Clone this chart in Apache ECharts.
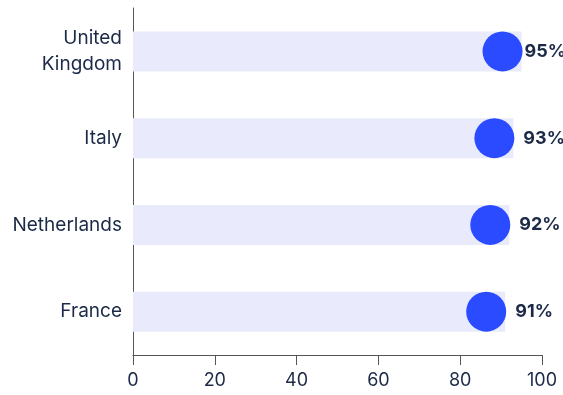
<!DOCTYPE html>
<html><head><meta charset="utf-8">
<script src="https://cdn.jsdelivr.net/npm/echarts@6/dist/echarts.min.js"></script>
<style>html,body{margin:0;padding:0;background:#fff}#c{width:563px;height:395px}</style>
</head><body><div id="c"></div>
<script>
const categories = ['United\nKingdom', 'Italy', 'Netherlands', 'France'];
const values = [95, 93, 92, 91];
const xTicks = [0, 20, 40, 60, 80, 100];

const chart = echarts.init(document.getElementById('c'), null, {renderer: 'canvas'});
const textColor = '#1c2a48';
chart.setOption({
  animation: false,
  grid: {left: 133, right: 21, top: 8, bottom: 40, containLabel: false},
  xAxis: {
    type: 'value', min: 0, max: 100, interval: 20,
    axisLine: {show: true, lineStyle: {color: '#555', width: 1}},
    axisTick: {show: true, length: 10, lineStyle: {color: '#555'}},
    splitLine: {show: false},
    axisLabel: {color: textColor, fontSize: 18, fontFamily: 'Inter', margin: 17,
      formatter: v => xTicks.includes(v) ? String(v) : ''}
  },
  yAxis: {
    type: 'category', data: categories, inverse: true,
    axisLine: {show: true, lineStyle: {color: '#555', width: 1}},
    axisTick: {show: false},
    axisLabel: {color: textColor, fontSize: 19, fontFamily: 'Inter', margin: 11, lineHeight: 26,
      align: 'right', padding: [3, 0, 0, 0]}
  },
  series: [
    {
      type: 'bar', data: values, barWidth: 40, silent: true,
      itemStyle: {color: '#e9ebfc'}, z: 1
    },
    {
      type: 'scatter',
      data: values.map((v, i) => ({
        value: [v, categories[i]],
        label: i === 0 ? {distance: 2} : undefined
      })),
      symbol: 'circle', symbolSize: 40, symbolOffset: [-19, 0],
      itemStyle: {color: '#2a4bff', opacity: 1}, z: 3,
      label: {show: true, position: 'right', distance: 9, formatter: p => p.value[0] + '%',
        color: textColor, fontSize: 18, fontWeight: 'bold', fontFamily: 'Inter'}
    }
  ]
});
</script></body></html>
